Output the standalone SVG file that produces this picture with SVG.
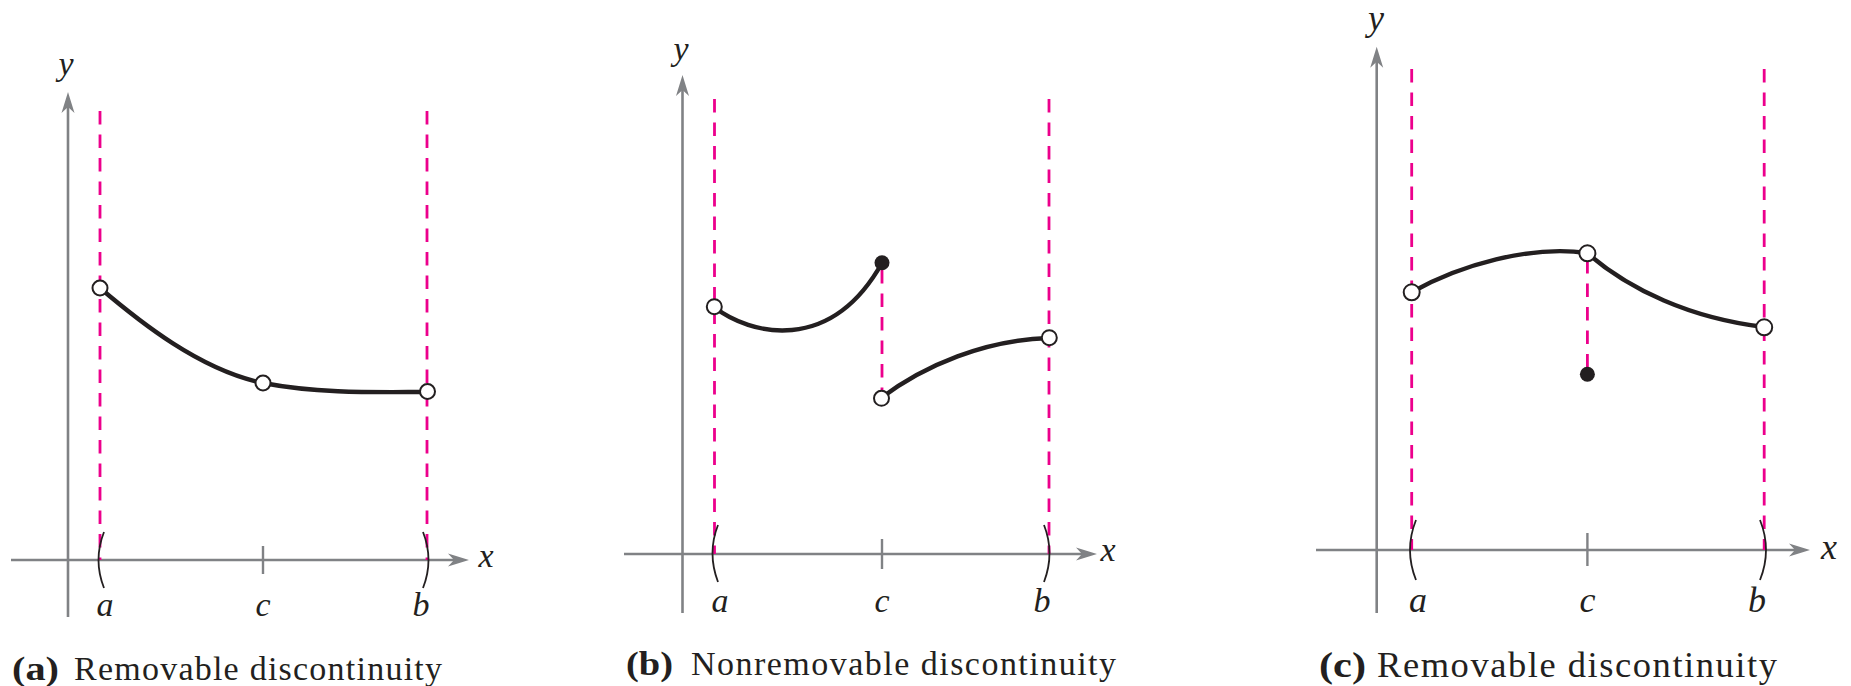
<svg xmlns="http://www.w3.org/2000/svg" xmlns:xlink="http://www.w3.org/1999/xlink" width="1851" height="686" viewBox="0 0 1851 686">
<style>
.axis{stroke:#808285;stroke-width:2.6;fill:none}
.arr{fill:#808285;stroke:none}
.dash{stroke:#EC008C;stroke-width:2.8;stroke-dasharray:13.5 10;fill:none}
.curve{stroke:#231F20;stroke-width:4.4;fill:none;stroke-linecap:round}
.paren{stroke:#231F20;stroke-width:1.8;fill:none}
.tick{stroke:#808285;stroke-width:2.4}
.open{fill:#ffffff;stroke:#231F20;stroke-width:2}
.closed{fill:#231F20;stroke:none}
.lab{font-family:"Liberation Serif","Times New Roman",serif;font-style:italic;fill:#231F20;text-anchor:middle}
.cap{font-family:"Liberation Serif","Times New Roman",serif;fill:#231F20}
</style>
<defs>
<path id="arrR" d="M0,0 L-21,-6.5 L-15,0 L-21,6.5 Z"/>
<path id="arrU" d="M0,0 L-6.5,21 L0,15 L6.5,21 Z"/>
</defs>

<g id="panel-a">
  <line class="axis" x1="68" y1="104" x2="68" y2="617"/>
  <line class="axis" x1="11" y1="560" x2="456" y2="560"/>
  <use href="#arrU" x="68" y="92" class="arr"/>
  <use href="#arrR" x="469" y="560" class="arr"/>
  <line class="tick" x1="263" y1="546" x2="263" y2="574"/>
  <line class="dash" x1="100" y1="111" x2="100" y2="560"/>
  <line class="dash" x1="427" y1="111" x2="427" y2="560"/>
  <path class="paren" d="M104,532 Q93,560 104,588"/>
  <path class="paren" d="M423,532 Q434,560 423,588"/>
  <path class="curve" d="M100,288 C140,322 200,370 263,383 C320,394 380,392 427,392"/>
  <circle class="open" cx="100" cy="288" r="7.5"/>
  <circle class="open" cx="263" cy="383" r="7.5"/>
  <circle class="open" cx="427.5" cy="391.5" r="7.5"/>
  <text class="lab" x="66" y="75" font-size="34">y</text>
  <text class="lab" x="486" y="567" font-size="34">x</text>
  <text class="lab" x="105" y="616" font-size="34">a</text>
  <text class="lab" x="263" y="616" font-size="34">c</text>
  <text class="lab" x="421" y="616" font-size="34">b</text>
  <text class="cap" y="680" font-size="34"><tspan x="12" font-weight="bold" textLength="47" lengthAdjust="spacingAndGlyphs">(a)</tspan><tspan x="74" textLength="368" lengthAdjust="spacing">Removable discontinuity</tspan></text>
</g>

<g id="panel-b">
  <line class="axis" x1="682.5" y1="87" x2="682.5" y2="613"/>
  <line class="axis" x1="624" y1="554" x2="1084" y2="554"/>
  <use href="#arrU" x="682.5" y="75" class="arr"/>
  <use href="#arrR" x="1097" y="554" class="arr"/>
  <line class="tick" x1="882" y1="539" x2="882" y2="569"/>
  <line class="dash" x1="714.5" y1="99" x2="714.5" y2="554"/>
  <line class="dash" x1="1049" y1="99" x2="1049" y2="554"/>
  <line class="dash" x1="882" y1="270" x2="882" y2="398"/>
  <path class="paren" d="M718,525 Q707,553 718,582"/>
  <path class="paren" d="M1044,525 Q1055,553 1044,582"/>
  <path class="curve" d="M714,307 C750,335 830,355 882,263"/>
  <path class="curve" d="M881,398 C925,365 985,340 1049,338"/>
  <circle class="open" cx="714.3" cy="306.7" r="7.5"/>
  <circle class="closed" cx="882" cy="262.7" r="7.5"/>
  <circle class="open" cx="881.5" cy="398.3" r="7.5"/>
  <circle class="open" cx="1049.3" cy="337.7" r="7.5"/>
  <text class="lab" x="681" y="60" font-size="34">y</text>
  <text class="lab" x="1108" y="561" font-size="34">x</text>
  <text class="lab" x="720" y="611.5" font-size="34">a</text>
  <text class="lab" x="882" y="611.5" font-size="34">c</text>
  <text class="lab" x="1042" y="611.5" font-size="34">b</text>
  <text class="cap" y="674.5" font-size="34"><tspan x="626" font-weight="bold" textLength="47" lengthAdjust="spacingAndGlyphs">(b)</tspan><tspan x="691" textLength="425" lengthAdjust="spacing">Nonremovable discontinuity</tspan></text>
</g>

<g id="panel-c">
  <line class="axis" x1="1376.7" y1="59" x2="1376.7" y2="613"/>
  <line class="axis" x1="1316" y1="550" x2="1797" y2="550"/>
  <use href="#arrU" x="1376.7" y="46.7" class="arr"/>
  <use href="#arrR" x="1810" y="550" class="arr"/>
  <line class="tick" x1="1587.4" y1="533" x2="1587.4" y2="566"/>
  <line class="dash" x1="1411.7" y1="69" x2="1411.7" y2="550"/>
  <line class="dash" x1="1764.2" y1="69" x2="1764.2" y2="550"/>
  <line class="dash" x1="1587.4" y1="260" x2="1587.4" y2="374"/>
  <path class="paren" d="M1416,520 Q1404,550 1416,580"/>
  <path class="paren" d="M1760,520 Q1772,550 1760,580"/>
  <path class="curve" d="M1412,292 C1460,265 1530,245 1587,253 C1630,290 1690,318 1764,327"/>
  <circle class="open" cx="1411.7" cy="292.3" r="8"/>
  <circle class="open" cx="1587.4" cy="253.3" r="8"/>
  <circle class="open" cx="1764.2" cy="327.3" r="8"/>
  <circle class="closed" cx="1587.4" cy="374.3" r="7.5"/>
  <text class="lab" x="1376" y="30" font-size="36">y</text>
  <text class="lab" x="1829" y="559" font-size="36">x</text>
  <text class="lab" x="1418" y="611.5" font-size="36">a</text>
  <text class="lab" x="1587.4" y="611.5" font-size="36">c</text>
  <text class="lab" x="1757" y="611.5" font-size="36">b</text>
  <text class="cap" y="677" font-size="36.5"><tspan x="1319" font-weight="bold" textLength="47" lengthAdjust="spacingAndGlyphs">(c)</tspan><tspan x="1377" textLength="400" lengthAdjust="spacing">Removable discontinuity</tspan></text>
</g>
</svg>
